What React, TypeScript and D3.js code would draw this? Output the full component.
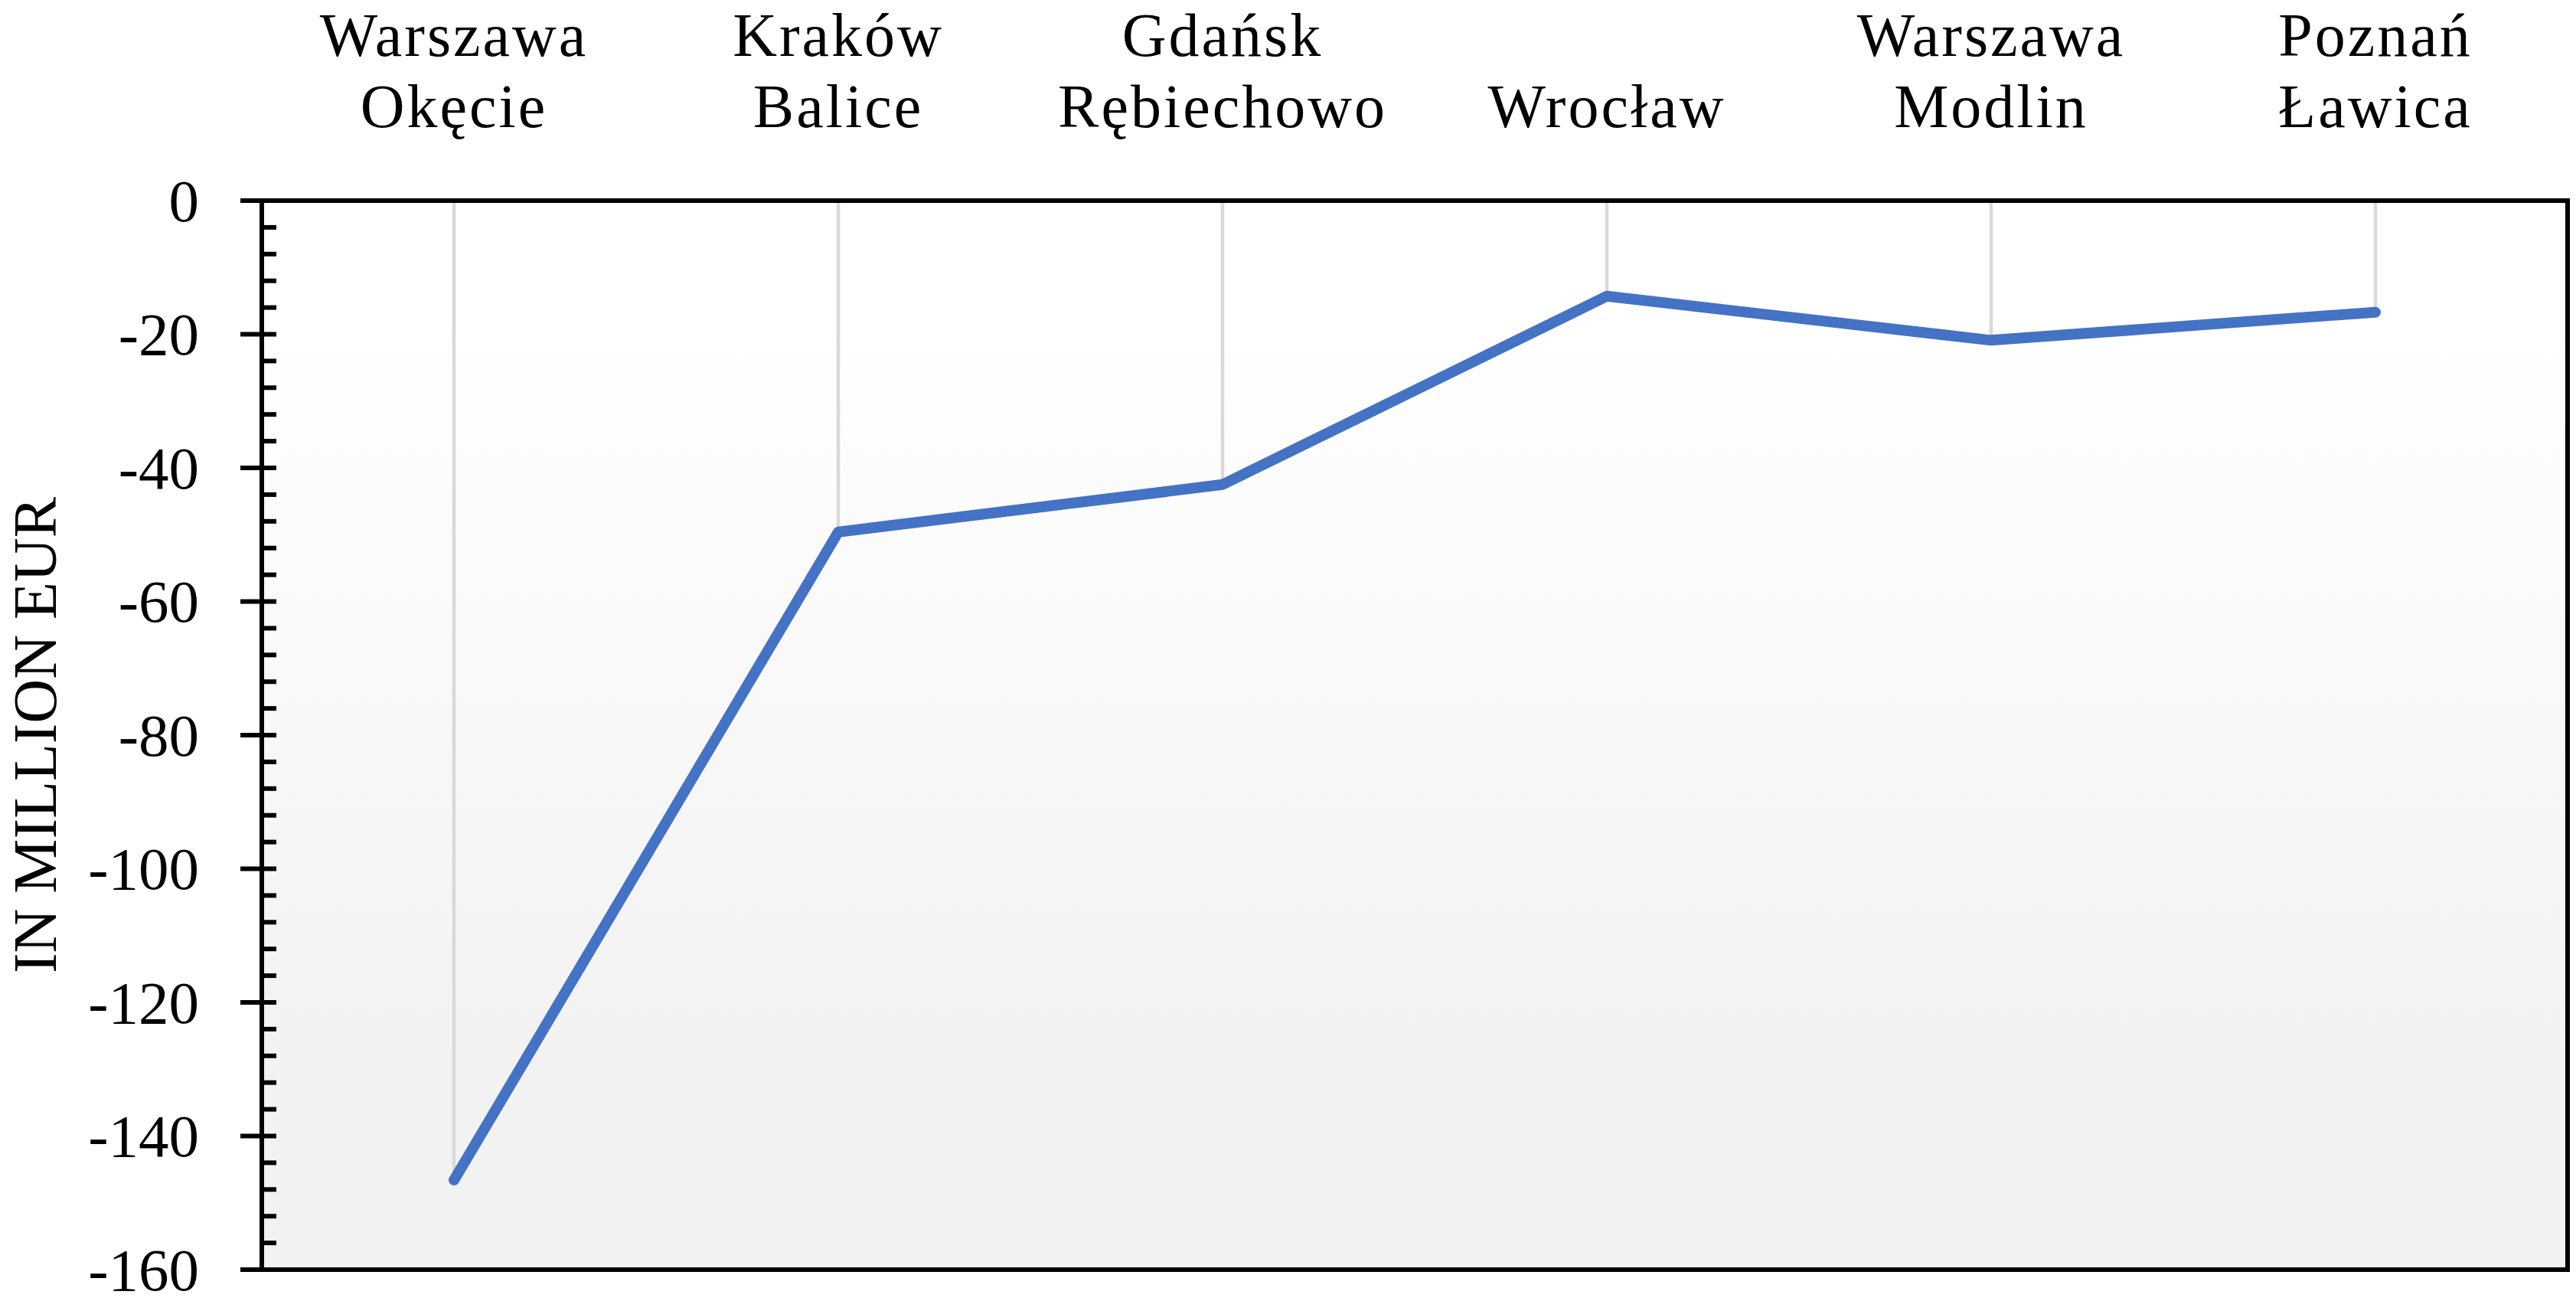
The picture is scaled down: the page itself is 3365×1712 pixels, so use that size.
import React from "react";
import * as d3 from "d3";

const categories: string[][] = [
  ["Warszawa", "Okęcie"],
  ["Kraków", "Balice"],
  ["Gdańsk", "Rębiechowo"],
  ["Wrocław"],
  ["Warszawa", "Modlin"],
  ["Poznań", "Ławica"],
];
const values: number[] = [-146.6, -49.6, -42.5, -14.3, -20.9, -16.7];
const yTicks: number[] = [0, -20, -40, -60, -80, -100, -120, -140, -160];
const yTitle = "IN MILLION EUR";

const W = 3365;
const H = 1712;
const M = { left: 342, right: 3354, top: 262, bottom: 1658 };
const FONT = "'Liberation Serif', 'Times New Roman', serif";

export default function App() {
  const keys = categories.map((c, i) => String(i));
  const x = d3.scaleBand<string>().domain(keys).range([M.left, M.right]).padding(0);
  const cx = (i: number) => (x(String(i)) as number) + x.bandwidth() / 2;
  const y = d3.scaleLinear().domain([0, -160]).range([M.top, M.bottom]);
  const minor = d3.range(0, -161, -4).filter((v) => v % 20 !== 0);
  const line = d3
    .line<number>()
    .x((_, i) => cx(i))
    .y((d) => y(d));
  const sw = 6;

  return (
    <svg
      width={W}
      height={H}
      style={{ position: "absolute", left: 0, top: 0, background: "#ffffff" }}
    >
      <defs>
        <linearGradient id="bg" x1="0" y1="0" x2="0" y2="1">
          <stop offset="0" stopColor="#ffffff" />
          <stop offset="0.12" stopColor="#ffffff" />
          <stop offset="0.8" stopColor="#f2f2f2" />
          <stop offset="1" stopColor="#f2f2f2" />
        </linearGradient>
      </defs>
      <rect x={M.left} y={M.top} width={M.right - M.left} height={M.bottom - M.top} fill="url(#bg)" />

      {/* drop lines */}
      {values.map((v, i) => (
        <line key={"d" + i} x1={cx(i)} x2={cx(i)} y1={M.top} y2={y(v)} stroke="#d9d9d9" strokeWidth={4.5} />
      ))}

      {/* data line */}
      <path
        d={line(values) as string}
        fill="none"
        stroke="#4472c4"
        strokeWidth={14}
        strokeLinecap="round"
        strokeLinejoin="round"
      />

      {/* frame */}
      <line x1={M.left} x2={M.right} y1={M.top} y2={M.top} stroke="#000" strokeWidth={sw} />
      <line x1={M.left} x2={M.right + sw / 2} y1={M.bottom} y2={M.bottom} stroke="#000" strokeWidth={sw} />
      <line x1={M.right} x2={M.right} y1={M.top - sw / 2} y2={M.bottom} stroke="#000" strokeWidth={sw} />
      <line x1={M.left} x2={M.left} y1={M.top - sw / 2} y2={M.bottom + sw / 2} stroke="#000" strokeWidth={sw} />

      {/* minor ticks */}
      {minor.map((v) => (
        <line key={"m" + v} x1={M.left} x2={M.left + 19} y1={y(v)} y2={y(v)} stroke="#000" strokeWidth={sw} />
      ))}
      {/* major ticks + labels */}
      {yTicks.map((v) => (
        <g key={"t" + v}>
          <line x1={M.left - 28} x2={M.left + 19} y1={y(v)} y2={y(v)} stroke="#000" strokeWidth={sw} />
          <text
            x={M.left - 82}
            y={y(v)}
            dy="0.34em"
            textAnchor="end"
            fontFamily={FONT}
            fontSize={79}
            fill="#000"
          >
            {String(v)}
          </text>
        </g>
      ))}

      {/* category labels at top */}
      {categories.map((lines, i) => (
        <text
          key={"c" + i}
          textAnchor="middle"
          fontFamily={FONT}
          fontSize={80}
          letterSpacing={3}
          fill="#000"
        >
          {lines.map((s, j) => (
            <tspan key={j} x={cx(i)} y={166 - (lines.length - 1 - j) * 93}>
              {s}
            </tspan>
          ))}
        </text>
      ))}

      {/* y axis title */}
      <text
        transform={`translate(73, ${(M.top + M.bottom) / 2}) rotate(-90)`}
        textAnchor="middle"
        fontFamily={FONT}
        fontSize={80}
        fill="#000"
      >
        {yTitle}
      </text>
    </svg>
  );
}
